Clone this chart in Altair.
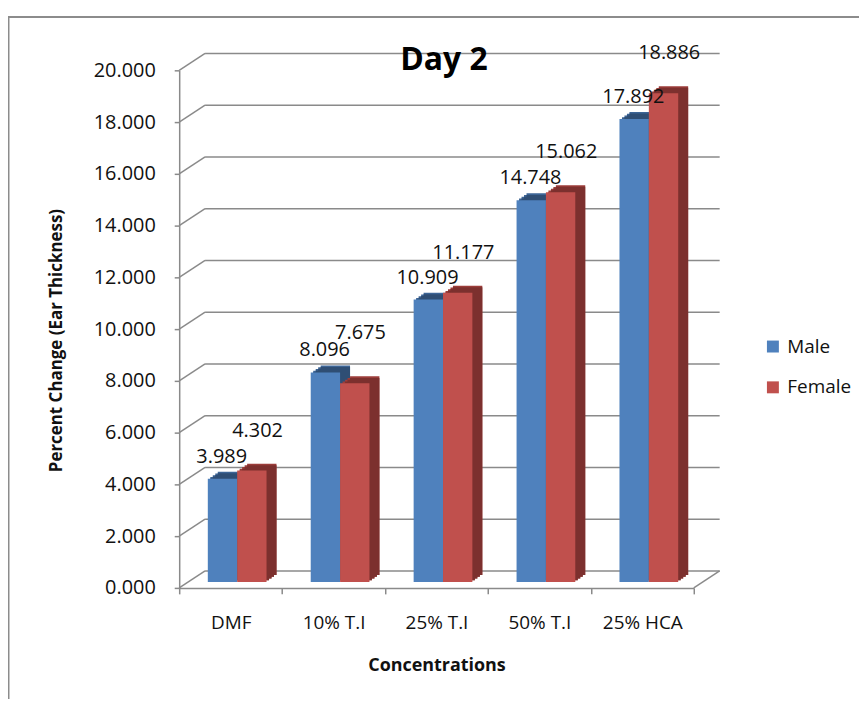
import altair as alt
import pandas as pd

# ---- data ----
categories = ["DMF", "10% T.I", "25% T.I", "50% T.I", "25% HCA"]
male = [3.989, 8.096, 10.909, 14.748, 17.892]
female = [4.302, 7.675, 11.177, 15.062, 18.886]
series_names = ["Male", "Female"]
y_ticks = [0, 2, 4, 6, 8, 10, 12, 14, 16, 18, 20]

title_text = "Day 2"
y_title = "Percent Change (Ear Thickness)"
x_title = "Concentrations"

# ---- styling ----
FONT = "Open Sans"
GRID = "#8a8a8a"
W, H = 517, 520
DEPTH_X, DEPTH_Y = 26, -17      # back wall offset
BAR_DX, BAR_DY = 10, -7         # bar depth
BAR_W = 29.5
LIFT = -6                        # bars sit slightly back from front plane
colors = {
    "Male": {"front": "#4F81BD", "top": "#3D6596", "side": "#2F4E74", "dx": -8.2},
    "Female": {"front": "#C0504D", "top": "#9C3D3A", "side": "#7C302E", "dx": 21.3},
}

rows = []
for c, m, f in zip(categories, male, female):
    rows.append({"cat": c, "series": "Male", "value": m, "pairmax": max(m, f)})
    rows.append({"cat": c, "series": "Female", "value": f, "pairmax": max(m, f)})
df = pd.DataFrame(rows)
grid_df = pd.DataFrame({"v": y_ticks})
one = pd.DataFrame({"k": [0]})

x_enc = alt.X(
    "cat:N",
    sort=categories,
    scale=alt.Scale(domain=categories, paddingInner=0, paddingOuter=0),
    axis=alt.Axis(
        title=x_title, labelAngle=0, tickBand="extent", tickSize=6,
        domainColor=GRID, tickColor=GRID, domainWidth=1.5, tickWidth=1.5,
        labelFont=FONT, labelFontSize=19, labelColor="#111", labelPadding=20,
        titleFont=FONT, titleFontSize=18, titleFontWeight="bold", titleColor="#111",
        titleBaseline="middle", titleY=78,
    ),
)
y_scale = alt.Scale(domain=[0, 20], nice=False, zero=True)
y_axis = alt.Axis(
    values=y_ticks, format=".3f", grid=False, tickSize=5,
    domainColor=GRID, tickColor=GRID, domainWidth=1.5, tickWidth=1.5,
    labelFont=FONT, labelFontSize=20, labelColor="#111", labelPadding=19,
    title=y_title, titleFont=FONT, titleFontSize=17, titleFontWeight="bold",
    titleColor="#111", titleAngle=270, titleAlign="center", titleBaseline="bottom",
    titleX=-114, titleY=271,
)


def Yq(field):
    return alt.Y(field, scale=y_scale, axis=y_axis)


layers = []

# outer frame
frame = alt.Chart(one).mark_rect(filled=False, stroke="#8c8c8c", strokeWidth=2).encode(
    x=alt.value(-171.5), x2=alt.value(700), y=alt.value(-53.5), y2=alt.value(660)
)

# back wall gridlines
back = alt.Chart(grid_df).mark_rule(color=GRID, strokeWidth=1.5, yOffset=DEPTH_Y).encode(
    y=Yq("v:Q"),
    x=alt.value(DEPTH_X), x2=alt.value(W + DEPTH_X),
)
diag = alt.Chart(grid_df).mark_rule(color=GRID, strokeWidth=1.5, y2Offset=DEPTH_Y).encode(
    y=Yq("v:Q"), y2="v:Q",
    x=alt.value(0), x2=alt.value(DEPTH_X),
)
floor_right = alt.Chart(one).mark_rule(color=GRID, strokeWidth=1.5, y2Offset=DEPTH_Y).encode(
    y=alt.Y(datum=0, scale=y_scale, axis=y_axis), y2=alt.datum(0),
    x=alt.value(W), x2=alt.value(W + DEPTH_X),
)

STEPS = 4
for s in series_names:
    sub = alt.Chart(df).transform_filter(alt.datum.series == s)
    cfg = colors[s]
    # top faces (staircase approximation of the parallelogram)
    for k in range(1, STEPS + 1):
        ox = BAR_DX * k / STEPS
        oy = BAR_DY * k / STEPS
        layers.append(sub.mark_bar(
            width=BAR_W, color=cfg["top"], xOffset=cfg["dx"] + ox,
            yOffset=LIFT + oy, y2Offset=LIFT + oy,
        ).encode(x=x_enc, y=Yq("value:Q"), y2=alt.datum(0)))
    # side faces
    for k in range(1, STEPS + 1):
        ox = BAR_DX * k / STEPS
        oy = BAR_DY * k / STEPS
        layers.append(sub.mark_bar(
            width=BAR_W, color=cfg["side"], xOffset=cfg["dx"] + ox,
            yOffset=LIFT + oy + 1.6, y2Offset=LIFT + oy,
        ).encode(x=x_enc, y=Yq("value:Q"), y2=alt.datum(0)))
    # front face
    layers.append(sub.mark_bar(
        width=BAR_W, xOffset=cfg["dx"], yOffset=LIFT, y2Offset=LIFT,
    ).encode(
        x=x_enc,
        y=Yq("value:Q"), y2=alt.datum(0),
        color=alt.Color(
            "series:N",
            scale=alt.Scale(domain=series_names, range=[colors["Male"]["front"], colors["Female"]["front"]]),
            legend=alt.Legend(
                title=None, orient="none", legendX=587, legendY=268,
                symbolType="square", symbolSize=144, symbolStrokeWidth=0,
                labelFont=FONT, labelFontSize=19, labelColor="#111",
                labelOffset=5, rowPadding=21,
            ),
        ),
    ))

# data labels (female label sits above the taller bar of its pair)
lab_m = alt.Chart(df).transform_filter(alt.datum.series == "Male").mark_text(
    font=FONT, fontSize=20, color="#111", baseline="alphabetic", dx=-9, dy=LIFT - 16
).encode(x=x_enc, y=Yq("value:Q"), text=alt.Text("value:Q", format=".3f"))
lab_f = alt.Chart(df).transform_filter(alt.datum.series == "Female").mark_text(
    font=FONT, fontSize=20, color="#111", baseline="alphabetic", dx=27, dy=LIFT - 34
).encode(x=x_enc, y=Yq("pairmax:Q"), text=alt.Text("value:Q", format=".3f"))

title = alt.Chart(one).mark_text(
    text=title_text, font=FONT, fontSize=32, fontWeight="bold", color="#000", baseline="alphabetic"
).encode(x=alt.value(266), y=alt.value(0))

chart = alt.layer(frame, back, diag, floor_right, *layers, lab_m, lab_f, title).properties(
    width=W, height=H,
    autosize=alt.AutoSizeParams(type="none"),
    padding={"left": 172, "top": 61, "right": 166, "bottom": 110},
    background="white",
).configure_view(stroke=None)

chart.save("out.html", embed_options={"renderer": "svg", "actions": False})
